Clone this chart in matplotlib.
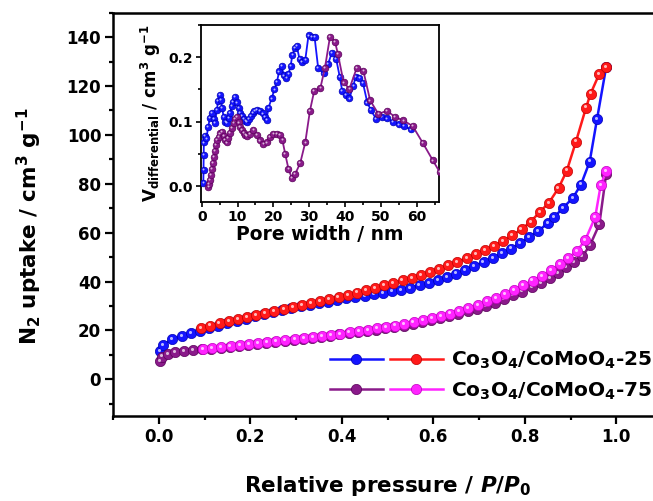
import numpy as np
import matplotlib
matplotlib.use("Agg")
import matplotlib.pyplot as plt
from matplotlib.ticker import MultipleLocator, FormatStrFormatter
from matplotlib.transforms import offset_copy
from matplotlib.lines import Line2D
from matplotlib.legend_handler import HandlerTuple

plt.rcParams["font.family"] = ["DejaVu Sans"]
plt.rcParams["font.weight"] = "bold"
plt.rcParams["mathtext.fontset"] = "custom"
plt.rcParams["mathtext.rm"] = "DejaVu Sans:bold"
plt.rcParams["mathtext.it"] = "DejaVu Sans:bold:italic"
plt.rcParams["mathtext.bf"] = "DejaVu Sans:bold"
plt.rcParams["mathtext.default"] = "rm"

# ---- N2 isotherms: Co3O4/CoMoO4-25 ----
p_ads_25 = [0.003, 0.009, 0.03, 0.05, 0.07, 0.09, 0.11, 0.13, 0.15, 0.17, 0.19,
            0.21, 0.23, 0.25, 0.27, 0.29, 0.31, 0.33, 0.35, 0.37, 0.39, 0.41,
            0.43, 0.45, 0.47, 0.49, 0.51, 0.53, 0.55, 0.57, 0.59, 0.61, 0.63,
            0.65, 0.67, 0.69, 0.71, 0.73, 0.75, 0.77, 0.79, 0.81, 0.83, 0.85,
            0.865, 0.883, 0.905, 0.923, 0.942, 0.958, 0.978]
v_ads_25 = [11.5, 14.0, 16.4, 17.7, 18.8, 19.8, 20.9, 21.9, 22.9, 23.9, 24.8,
            25.8, 26.7, 27.6, 28.4, 29.1, 29.8, 30.5, 31.2, 31.8, 32.5, 33.1,
            33.6, 34.2, 34.8, 35.4, 36.0, 36.7, 37.5, 38.4, 39.4, 40.6, 41.9,
            43.3, 44.8, 46.4, 48.0, 49.7, 51.5, 53.5, 55.7, 58.1, 60.8, 63.8,
            66.5, 70.0, 74.2, 79.7, 89.1, 106.5, 127.8]

p_des_25 = [0.093, 0.113, 0.133, 0.153, 0.173, 0.193, 0.213, 0.233, 0.253, 0.273,
            0.293, 0.313, 0.333, 0.353, 0.373, 0.393, 0.413, 0.433, 0.453, 0.473,
            0.493, 0.513, 0.533, 0.553, 0.573, 0.593, 0.613, 0.633, 0.653, 0.673,
            0.693, 0.713, 0.733, 0.753, 0.773, 0.793, 0.813, 0.833, 0.853, 0.874,
            0.892, 0.912, 0.934, 0.944, 0.963, 0.978]
v_des_25 = [21.1, 22.0, 22.9, 23.8, 24.7, 25.6, 26.4, 27.2, 28.0, 28.8,
            29.6, 30.4, 31.2, 32.0, 32.8, 33.7, 34.6, 35.5, 36.4, 37.4,
            38.4, 39.4, 40.5, 41.6, 42.8, 44.0, 45.3, 46.7, 48.1, 49.6,
            51.2, 52.9, 54.7, 56.6, 58.9, 61.4, 64.5, 68.5, 72.3, 78.3,
            85.4, 97.3, 111.2, 116.9, 125.0, 127.8]

# ---- N2 isotherms: Co3O4/CoMoO4-75 ----
p_ads_75 = [0.003, 0.008, 0.02, 0.035, 0.055, 0.075, 0.095, 0.115, 0.135, 0.155,
            0.175, 0.195, 0.215, 0.235, 0.255, 0.275, 0.295, 0.315, 0.335, 0.355,
            0.375, 0.395, 0.415, 0.435, 0.455, 0.475, 0.495, 0.515, 0.535, 0.555,
            0.575, 0.595, 0.615, 0.635, 0.655, 0.675, 0.695, 0.715, 0.735, 0.755,
            0.775, 0.795, 0.815, 0.835, 0.855, 0.873, 0.89, 0.908, 0.926, 0.943,
            0.963, 0.978]
v_ads_75 = [7.5, 9.3, 10.5, 11.2, 11.7, 12.1, 12.4, 12.6, 13.0, 13.4,
            13.8, 14.2, 14.6, 15.0, 15.4, 15.8, 16.2, 16.6, 17.0, 17.4,
            17.9, 18.4, 18.8, 19.3, 19.8, 20.3, 20.8, 21.4, 22.0, 22.7,
            23.4, 24.1, 24.9, 25.8, 26.8, 27.8, 28.9, 30.1, 31.4, 32.8,
            34.3, 35.9, 37.6, 39.5, 41.5, 43.6, 45.8, 48.0, 50.3, 55.0,
            63.4, 84.0]

p_des_75 = [0.097, 0.117, 0.137, 0.157, 0.177, 0.197, 0.217, 0.237, 0.257, 0.277,
            0.297, 0.317, 0.337, 0.357, 0.377, 0.397, 0.417, 0.437, 0.457, 0.477,
            0.497, 0.517, 0.537, 0.557, 0.577, 0.597, 0.617, 0.637, 0.657, 0.677,
            0.697, 0.717, 0.737, 0.757, 0.777, 0.797, 0.817, 0.837, 0.857, 0.877,
            0.895, 0.914, 0.932, 0.954, 0.966, 0.978]
v_des_75 = [12.4, 12.8, 13.2, 13.6, 14.0, 14.4, 14.8, 15.2, 15.6, 16.0,
            16.4, 16.8, 17.2, 17.7, 18.2, 18.7, 19.2, 19.7, 20.2, 20.8,
            21.4, 22.0, 22.7, 23.4, 24.2, 25.0, 25.9, 26.9, 28.0, 29.2,
            30.5, 31.9, 33.4, 35.0, 36.7, 38.5, 40.4, 42.4, 44.6, 47.1,
            49.6, 52.5, 56.9, 66.4, 79.4, 85.1]

# ---- Pore size distributions (inset) ----
w_25 = [0.45, 0.5, 0.55, 0.6, 0.8, 1.3, 1.8, 2.3, 2.8, 3.3, 3.7, 4.2, 4.6, 5.0,
        5.4, 5.7, 6.1, 6.6, 7.0, 7.5, 7.9, 8.4, 8.8, 9.3, 9.8, 10.3, 10.7, 11.2,
        11.7, 12.2, 12.7, 13.2, 13.7, 14.2, 14.7, 15.5, 16.3, 17.0, 17.6, 18.1,
        18.6, 19.5, 20.3, 21.0, 21.6, 22.3, 22.9, 23.6, 24.2, 24.8, 25.3, 26.0,
        26.5, 27.3, 28.0, 28.9, 29.8, 30.7, 31.5, 32.5, 34.0, 35.3, 36.3, 37.5,
        38.5, 39.2, 40.2, 41.2, 42.3, 43.0, 44.0, 45.0, 46.2, 47.2, 48.7, 50.2,
        51.7, 53.3, 55.0, 56.5, 58.3]
dv_25 = [0.005, 0.025, 0.048, 0.068, 0.078, 0.074, 0.092, 0.106, 0.114, 0.104,
         0.098, 0.118, 0.132, 0.141, 0.134, 0.121, 0.108, 0.100, 0.098, 0.106,
         0.114, 0.124, 0.131, 0.138, 0.130, 0.121, 0.114, 0.109, 0.104, 0.101,
         0.100, 0.104, 0.109, 0.114, 0.117, 0.118, 0.117, 0.113, 0.108, 0.103,
         0.121, 0.136, 0.150, 0.162, 0.178, 0.186, 0.172, 0.168, 0.174, 0.186,
         0.204, 0.214, 0.218, 0.197, 0.193, 0.196, 0.234, 0.232, 0.231, 0.183,
         0.175, 0.190, 0.207, 0.198, 0.170, 0.148, 0.142, 0.136, 0.156, 0.170,
         0.168, 0.160, 0.130, 0.118, 0.104, 0.108, 0.105, 0.100, 0.096, 0.093,
         0.088]

w_75 = [1.85, 2.0, 2.3, 2.6, 2.9, 3.2, 3.5, 3.7, 4.0, 4.3, 4.7, 5.1, 5.6, 6.1,
        6.5, 7.0, 7.4, 7.9, 8.4, 8.9, 9.3, 9.8, 10.3, 10.7, 11.2, 11.7, 12.2,
        12.7, 13.5, 14.4, 15.3, 16.3, 17.2, 18.1, 19.0, 20.0, 21.0, 21.8, 22.5,
        23.3, 24.2, 25.1, 26.1, 27.5, 28.9, 30.2, 31.4, 33.1, 34.4, 35.8, 37.2,
        38.0, 39.6, 41.2, 43.3, 45.1, 47.0, 49.3, 51.7, 54.0, 56.3, 58.9, 61.7,
        64.5, 66.4]
dv_75 = [-0.001, 0.004, 0.010, 0.018, 0.027, 0.036, 0.046, 0.055, 0.064, 0.072,
         0.077, 0.082, 0.084, 0.078, 0.072, 0.068, 0.075, 0.083, 0.091, 0.098,
         0.104, 0.108, 0.099, 0.092, 0.087, 0.083, 0.080, 0.078, 0.081, 0.087,
         0.079, 0.071, 0.066, 0.068, 0.077, 0.081, 0.081, 0.080, 0.072, 0.050,
         0.027, 0.013, 0.019, 0.036, 0.068, 0.117, 0.148, 0.152, 0.184, 0.232,
         0.224, 0.205, 0.161, 0.151, 0.184, 0.179, 0.133, 0.112, 0.117, 0.107,
         0.102, 0.093, 0.067, 0.040, 0.022]

BLUE, BLUE_E = "#1414ff", "#0000b4"
RED, RED_E = "#ff1a1a", "#c00000"
PURPLE, PURPLE_E = "#8a1a8a", "#5a005a"
MAGENTA, MAGENTA_E = "#ff24ff", "#c000c0"


def ball_series(ax, x, y, face, edge, ms, lw, z, hl_off=1.0):
    """Line with shaded 'ball' markers (a solid disc plus a small glint)."""
    ax.plot(x, y, "-", color=face, lw=lw, marker="o", ms=ms, mfc=face,
            mec=edge, mew=0.5, zorder=z)
    glint = offset_copy(ax.transData, fig=ax.figure, x=-hl_off * 0.8,
                        y=hl_off * 0.8, units="points")
    ax.plot(x, y, linestyle="none", marker="o", ms=ms * 0.3, mfc="white",
            mec="none", alpha=0.7, transform=glint, zorder=z + 0.1)


fig = plt.figure(figsize=(6.53, 5.01), dpi=100)
W, H = 653.0, 501.0

# main axes (right edge runs slightly past the canvas)
ax = fig.add_axes([113 / W, (H - 416) / H, (662 - 113) / W, (416 - 12.7) / H])
MS = 7.4
ball_series(ax, p_ads_25, v_ads_25, BLUE, BLUE_E, MS, 1.8, 3)
ball_series(ax, p_des_25, v_des_25, RED, RED_E, MS, 1.8, 4)
ball_series(ax, p_ads_75, v_ads_75, PURPLE, PURPLE_E, MS, 1.8, 5)
ball_series(ax, p_des_75, v_des_75, MAGENTA, MAGENTA_E, MS, 1.8, 6)

ax.set_xlim(-0.1, 1.1)
ax.set_ylim(-15, 150)
ax.set_xticks(np.arange(0.0, 1.01, 0.2))
ax.xaxis.set_minor_locator(MultipleLocator(0.1))
ax.xaxis.set_major_formatter(FormatStrFormatter("%.1f"))
ax.set_yticks(np.arange(0, 141, 20))
ax.yaxis.set_minor_locator(MultipleLocator(10))
ax.tick_params(which="both", direction="out", width=1.6, top=False, right=False)
ax.tick_params(which="major", length=5.5, labelsize=12, pad=3)
ax.tick_params(which="minor", length=3)
for s in ax.spines.values():
    s.set_linewidth(1.8)
for lab in ax.get_xticklabels() + ax.get_yticklabels():
    lab.set_fontweight("bold")

ax.set_xlabel(r"Relative pressure / $\mathit{P/P}_0$", fontsize=15.5,
              fontweight="bold", va="top")
ax.xaxis.set_label_coords(0.5, -0.145)
ax.set_ylabel(r"N$_2$ uptake / cm$^3$ g$^{-1}$", fontsize=15.5,
              fontweight="bold")
ax.yaxis.set_label_coords(-0.125, 0.47)

# legend: adsorption / desorption pairs
def proxy(face, edge):
    return Line2D([], [], color=face, lw=1.8, marker="o", ms=MS, mfc=face,
                  mec=edge, mew=0.5)

leg = ax.legend([(proxy(BLUE, BLUE_E), proxy(RED, RED_E)),
                 (proxy(PURPLE, PURPLE_E), proxy(MAGENTA, MAGENTA_E))],
                [r"Co$_3$O$_4$/CoMoO$_4$-25", r"Co$_3$O$_4$/CoMoO$_4$-75"],
                handler_map={tuple: HandlerTuple(ndivide=None, pad=0.35)},
                frameon=False, loc="upper left",
                bbox_to_anchor=(330 / W, 1 - 350 / H),
                bbox_transform=fig.transFigure, borderpad=0, borderaxespad=0,
                handlelength=5.6, handletextpad=0.4, labelspacing=0.45,
                prop=dict(size=14.5, weight="bold"))

# inset: pore size distribution
axi = fig.add_axes([201 / W, (H - 202.3) / H, (439.3 - 201) / W, (202.3 - 25) / H])
ball_series(axi, w_25, dv_25, BLUE, BLUE_E, 4.8, 1.3, 3, hl_off=0.7)
ball_series(axi, w_75, dv_75, PURPLE, PURPLE_E, 4.8, 1.3, 4, hl_off=0.7)
axi.set_xlim(-0.2, 66.3)
axi.set_ylim(-0.025, 0.25)
axi.set_xticks(np.arange(0, 61, 10))
axi.xaxis.set_minor_locator(MultipleLocator(5))
axi.set_yticks([0.0, 0.1, 0.2])
axi.yaxis.set_minor_locator(MultipleLocator(0.05))
axi.yaxis.set_major_formatter(FormatStrFormatter("%.1f"))
axi.tick_params(which="both", direction="out", width=1.2, top=False, right=False)
axi.tick_params(which="major", length=3.5, labelsize=10, pad=2)
axi.tick_params(which="minor", length=2)
for s in axi.spines.values():
    s.set_linewidth(1.3)
for lab in axi.get_xticklabels() + axi.get_yticklabels():
    lab.set_fontweight("bold")
axi.set_xlabel("Pore width / nm", fontsize=13.5, fontweight="bold", labelpad=1)
axi.set_ylabel(r"V$_{\mathregular{differential}}$ / cm$^3$ g$^{-1}$",
               fontsize=12, fontweight="bold")
axi.yaxis.set_label_coords(-0.16, 0.5)

fig.savefig("out.png", dpi=100)
